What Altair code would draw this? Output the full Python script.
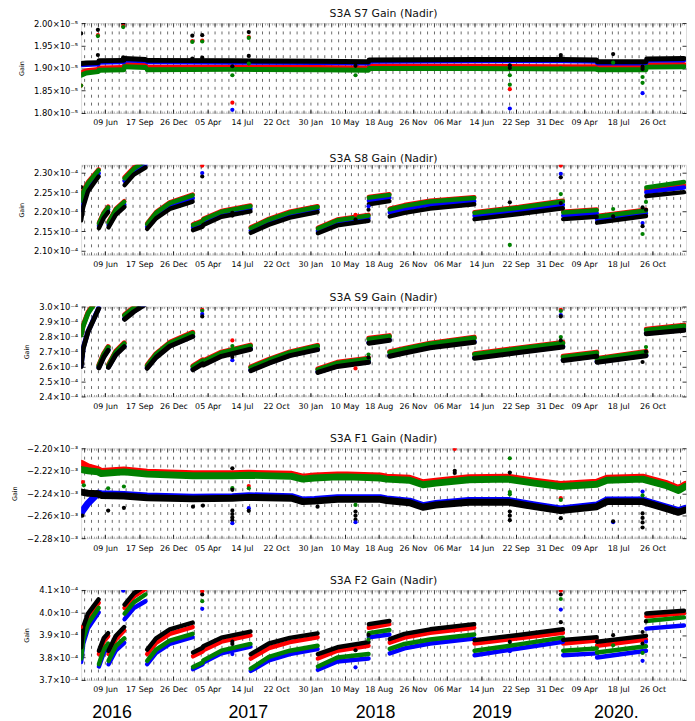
import altair as alt
import pandas as pd

# ---------------- x axis ----------------
X_START = "2016-03-31"
X_END = "2021-02-01"
LABEL_TICKS = ["2016-06-09", "2016-09-17", "2016-12-26", "2017-04-05", "2017-07-14",
               "2017-10-22", "2018-01-30", "2018-05-10", "2018-08-18", "2018-11-26",
               "2019-03-06", "2019-06-14", "2019-09-22", "2019-12-31", "2020-04-09",
               "2020-07-18", "2020-10-26"]
GRID_ORIGIN = "2016-03-01"
YEAR_LABEL_AT = ["2016-06-28", "2017-07-31", "2018-08-07", "2019-07-14", "2020-07-11"]

SERIES = ["red", "blue", "green", "black"]
COLORS = {"red": "#ff0000", "blue": "#0000ff", "green": "#008000", "black": "#000000"}

# ---------------- segment dates (S8, S9, F2) ----------------
SEG_DATES = [
    ["2016-03-31", "2016-04-06", "2016-04-20", "2016-05-21"],
    ["2016-05-22", "2016-06-05", "2016-06-18"],
    ["2016-06-19", "2016-07-10", "2016-08-04"],
    ["2016-08-05", "2016-09-01", "2016-10-05"],
    ["2016-10-10", "2016-11-05", "2016-12-15", "2017-02-20"],
    ["2017-02-21", "2017-03-21"],
    ["2017-03-23", "2017-05-15", "2017-08-08"],
    ["2017-08-09", "2017-10-01", "2017-12-01", "2018-02-20"],
    ["2018-02-21", "2018-04-19", "2018-07-19"],
    ["2018-07-20", "2018-09-18"],
    ["2018-09-19", "2018-11-01", "2019-01-15", "2019-05-24"],
    ["2019-05-25", "2019-10-01", "2020-02-07"],
    ["2020-02-08", "2020-05-16"],
    ["2020-05-17", "2020-10-07"],
    ["2020-10-08", "2021-01-26"],
]

# ---------------- S7 (x1e-5) ----------------
S7_DATES = [
    ["2016-03-31", "2016-04-15", "2016-05-20"],
    ["2016-05-22", "2016-08-03"],
    ["2016-08-05", "2016-10-05"],
    ["2016-10-10", "2017-06-16", "2018-02-20", "2018-07-19"],
    ["2018-07-21", "2019-05-24", "2020-02-07", "2020-05-16"],
    ["2020-05-18", "2020-10-07"],
    ["2020-10-09", "2021-01-26"],
]
S7_BLACK = [[1.910, 1.911, 1.912], [1.916, 1.917], [1.921, 1.919], [1.917, 1.916, 1.915, 1.914],
            [1.918, 1.919, 1.919, 1.918], [1.914, 1.914], [1.920, 1.921]]
S7_BLUE = [[1.907, 1.908, 1.909], [1.913, 1.914], [1.918, 1.916], [1.914, 1.913, 1.912, 1.911],
           [1.915, 1.916, 1.916, 1.915], [1.911, 1.911], [1.917, 1.918]]
S7_RED = [[1.889, 1.894, 1.897], [1.900, 1.901], [1.908, 1.906], [1.902, 1.902, 1.901, 1.900],
          [1.904, 1.904, 1.903, 1.903], [1.901, 1.901], [1.907, 1.908]]
S7_GREEN = [[1.884, 1.889, 1.892], [1.895, 1.896], [1.903, 1.901], [1.896, 1.897, 1.896, 1.895],
            [1.899, 1.899, 1.898, 1.898], [1.896, 1.896], [1.902, 1.903]]
S7_OUT = [
    ("2016-03-31", 1.977, "black"), ("2016-03-31", 1.861, "red"), ("2016-03-31", 1.861, "green"),
    ("2016-05-19", 1.985, "black"), ("2016-05-19", 1.973, "red"), ("2016-05-19", 1.971, "green"),
    ("2016-05-19", 1.929, "black"),
    ("2016-08-01", 1.999, "black"), ("2016-08-01", 1.993, "red"), ("2016-08-01", 1.991, "green"),
    ("2016-08-01", 1.924, "black"),
    ("2017-02-19", 1.972, "black"), ("2017-02-19", 1.960, "red"), ("2017-02-19", 1.958, "green"),
    ("2017-02-19", 1.921, "black"),
    ("2017-03-20", 1.973, "black"), ("2017-03-20", 1.961, "red"), ("2017-03-20", 1.959, "green"),
    ("2017-03-20", 1.923, "black"),
    ("2017-06-16", 1.823, "red"), ("2017-06-16", 1.807, "blue"), ("2017-06-16", 1.904, "black"),
    ("2017-06-16", 1.884, "green"),
    ("2017-08-03", 1.980, "black"), ("2017-08-03", 1.969, "red"), ("2017-08-03", 1.967, "green"),
    ("2017-08-03", 1.927, "black"), ("2017-08-03", 1.910, "green"),
    ("2018-06-11", 1.905, "black"), ("2018-06-11", 1.884, "green"),
    ("2019-09-05", 1.906, "black"), ("2019-09-05", 1.863, "green"), ("2019-09-05", 1.853, "red"),
    ("2019-09-05", 1.810, "blue"), ("2019-09-05", 1.900, "black"), ("2019-09-05", 1.884, "green"),
    ("2020-02-01", 1.929, "black"), ("2020-02-01", 1.924, "black"), ("2020-02-01", 1.900, "green"),
    ("2020-07-03", 1.931, "black"), ("2020-07-03", 1.912, "green"),
    ("2020-09-27", 1.903, "black"), ("2020-09-27", 1.867, "green"), ("2020-09-27", 1.844, "blue"),
    ("2020-09-27", 1.898, "black"), ("2020-09-27", 1.880, "green"),
]

# ---------------- S8 (x1e-4) ----------------
S8_RED = [[2.232, 2.254, 2.276, 2.308], [2.172, 2.198, 2.213], [2.174, 2.207, 2.227], [2.288, 2.313, 2.332],
          [2.170, 2.199, 2.224, 2.244], [2.168, 2.177], [2.182, 2.202, 2.216], [2.160, 2.182, 2.200, 2.214],
          [2.159, 2.180, 2.192], [2.238, 2.245], [2.208, 2.217, 2.228, 2.237], [2.199, 2.212, 2.228],
          [2.200, 2.206], [2.189, 2.205], [2.256, 2.268]]
S8_BLUE = [[2.205, 2.232, 2.262, 2.298], [2.165, 2.191, 2.206], [2.167, 2.199, 2.219], [2.279, 2.304, 2.322],
           [2.162, 2.191, 2.215, 2.235], [2.160, 2.169], [2.174, 2.194, 2.208], [2.152, 2.174, 2.192, 2.206],
           [2.151, 2.172, 2.184], [2.228, 2.236], [2.198, 2.207, 2.218, 2.227], [2.190, 2.203, 2.218],
           [2.190, 2.196], [2.180, 2.196], [2.250, 2.262]]
S8_GREEN = [[2.228, 2.250, 2.273, 2.306], [2.170, 2.196, 2.211], [2.172, 2.205, 2.225], [2.285, 2.310, 2.329],
            [2.168, 2.197, 2.222, 2.242], [2.166, 2.175], [2.180, 2.200, 2.214], [2.158, 2.180, 2.198, 2.212],
            [2.157, 2.178, 2.190], [2.236, 2.243], [2.206, 2.215, 2.226, 2.235], [2.197, 2.210, 2.226],
            [2.198, 2.204], [2.187, 2.203], [2.262, 2.276]]
S8_BLACK = [[2.178, 2.212, 2.252, 2.290], [2.158, 2.184, 2.199], [2.160, 2.192, 2.212], [2.268, 2.295, 2.313],
            [2.156, 2.183, 2.207, 2.226], [2.153, 2.162], [2.166, 2.187, 2.201], [2.146, 2.167, 2.185, 2.199],
            [2.145, 2.165, 2.177], [2.219, 2.227], [2.188, 2.197, 2.208, 2.219], [2.181, 2.194, 2.209],
            [2.181, 2.187], [2.172, 2.189], [2.240, 2.250]]
S8_OUT = [
    ("2016-03-31", 2.263, "black"),
    ("2017-03-20", 2.318, "red"), ("2017-03-20", 2.299, "blue"), ("2017-03-20", 2.290, "black"),
    ("2017-06-16", 2.190, "black"), ("2017-06-16", 2.197, "black"),
    ("2018-06-11", 2.192, "red"), ("2018-06-11", 2.180, "black"),
    ("2018-07-19", 2.205, "black"), ("2018-07-19", 2.214, "blue"),
    ("2019-09-05", 2.224, "black"), ("2019-09-05", 2.115, "green"),
    ("2020-02-01", 2.318, "red"), ("2020-02-01", 2.297, "blue"), ("2020-02-01", 2.288, "black"),
    ("2020-02-01", 2.245, "green"), ("2020-02-01", 2.222, "black"),
    ("2020-07-03", 2.207, "green"), ("2020-07-03", 2.188, "black"),
    ("2020-09-27", 2.211, "black"), ("2020-09-27", 2.171, "blue"), ("2020-09-27", 2.163, "black"),
    ("2020-09-27", 2.143, "green"),
    ("2020-10-07", 2.205, "black"), ("2020-10-07", 2.225, "green"),
]

# ---------------- S9 (x1e-4) ----------------
S9_RED = [[2.816, 2.876, 2.961, 3.066], [2.611, 2.686, 2.733], [2.612, 2.701, 2.758], [2.946, 2.996, 3.046],
          [2.609, 2.686, 2.761, 2.828], [2.604, 2.644], [2.638, 2.696, 2.743], [2.598, 2.648, 2.698, 2.741],
          [2.584, 2.628, 2.656], [2.788, 2.806], [2.699, 2.721, 2.756, 2.796], [2.686, 2.724, 2.761],
          [2.668, 2.696], [2.654, 2.701], [2.848, 2.876]]
S9_BLUE = [[2.604, 2.724, 2.834, 2.989], [2.596, 2.666, 2.712], [2.598, 2.681, 2.736], [2.919, 2.969, 3.019],
           [2.592, 2.664, 2.739, 2.804], [2.582, 2.622], [2.614, 2.672, 2.719], [2.576, 2.626, 2.676, 2.716],
           [2.564, 2.604, 2.632], [2.759, 2.779], [2.672, 2.694, 2.729, 2.766], [2.659, 2.697, 2.734],
           [2.644, 2.672], [2.632, 2.676], [2.822, 2.846]]
S9_GREEN = [[2.810, 2.870, 2.955, 3.060], [2.605, 2.680, 2.727], [2.606, 2.695, 2.752], [2.940, 2.990, 3.040],
            [2.603, 2.680, 2.755, 2.822], [2.598, 2.638], [2.632, 2.690, 2.737], [2.592, 2.642, 2.692, 2.735],
            [2.578, 2.622, 2.650], [2.782, 2.800], [2.693, 2.715, 2.750, 2.790], [2.680, 2.718, 2.755],
            [2.662, 2.690], [2.648, 2.695], [2.842, 2.870]]
S9_BLACK = [[2.600, 2.720, 2.830, 2.985], [2.592, 2.662, 2.708], [2.594, 2.677, 2.732], [2.915, 2.965, 3.015],
            [2.588, 2.660, 2.735, 2.800], [2.578, 2.618], [2.610, 2.668, 2.715], [2.572, 2.622, 2.672, 2.712],
            [2.560, 2.600, 2.628], [2.755, 2.775], [2.668, 2.690, 2.725, 2.762], [2.655, 2.693, 2.730],
            [2.640, 2.668], [2.628, 2.672], [2.818, 2.842]]
S9_OUT = [
    ("2017-03-20", 2.978, "red"), ("2017-03-20", 2.971, "green"), ("2017-03-20", 2.950, "blue"),
    ("2017-03-20", 2.934, "black"),
    ("2017-06-16", 2.774, "red"), ("2017-06-16", 2.736, "green"), ("2017-06-16", 2.642, "blue"),
    ("2017-06-16", 2.664, "black"),
    ("2018-06-11", 2.587, "red"),
    ("2018-07-19", 2.680, "green"), ("2018-07-19", 2.660, "black"),
    ("2020-02-01", 2.978, "red"), ("2020-02-01", 2.970, "green"), ("2020-02-01", 2.943, "blue"),
    ("2020-02-01", 2.934, "black"), ("2020-02-01", 2.796, "green"), ("2020-02-01", 2.774, "black"),
    ("2020-09-27", 2.630, "black"), ("2020-10-07", 2.730, "green"), ("2020-10-07", 2.700, "black"),
]

# ---------------- F1 (x1e-3) ----------------
F1_DATES = [["2016-04-01", "2016-04-20", "2016-05-19", "2016-05-29", "2016-08-03", "2016-10-10",
             "2017-02-21", "2017-06-16", "2017-08-03", "2017-12-06", "2018-01-08", "2018-02-11",
             "2018-04-19", "2018-05-18", "2018-08-22", "2018-09-10", "2018-11-16", "2018-12-25",
             "2019-02-01", "2019-05-08", "2019-08-31", "2019-11-16", "2020-01-31", "2020-05-16",
             "2020-06-15", "2020-09-27", "2020-12-03", "2021-01-10", "2021-01-30"]]
F1_RED = [[-2.2135, -2.2165, -2.2190, -2.2207, -2.2192, -2.2212, -2.2227, -2.2227, -2.2222, -2.2232,
           -2.2257, -2.2247, -2.2237, -2.2237, -2.2247, -2.2257, -2.2267, -2.2307, -2.2292, -2.2262,
           -2.2257, -2.2292, -2.2322, -2.2302, -2.2267, -2.2257, -2.2312, -2.2357, -2.2322]]
F1_BLUE = [[-2.2570, -2.2490, -2.2400, -2.2405, -2.2410, -2.2425, -2.2435, -2.2430, -2.2422, -2.2430,
            -2.2460, -2.2455, -2.2440, -2.2440, -2.2440, -2.2450, -2.2470, -2.2510, -2.2490, -2.2465,
            -2.2465, -2.2505, -2.2540, -2.2505, -2.2460, -2.2460, -2.2520, -2.2555, -2.2535]]
F1_GREEN = [[-2.2190, -2.2200, -2.2210, -2.2225, -2.2210, -2.2230, -2.2245, -2.2245, -2.2240, -2.2250,
             -2.2275, -2.2265, -2.2255, -2.2255, -2.2265, -2.2275, -2.2285, -2.2325, -2.2310, -2.2280,
             -2.2275, -2.2310, -2.2340, -2.2320, -2.2285, -2.2275, -2.2330, -2.2375, -2.2340]]
F1_BLACK = [[-2.2390, -2.2400, -2.2405, -2.2420, -2.2425, -2.2440, -2.2450, -2.2445, -2.2437, -2.2445,
             -2.2475, -2.2470, -2.2455, -2.2455, -2.2455, -2.2465, -2.2485, -2.2525, -2.2505, -2.2480,
             -2.2480, -2.2520, -2.2555, -2.2520, -2.2475, -2.2475, -2.2535, -2.2570, -2.2550]]
F1_OUT = [
    ("2016-04-05", -2.2300, "red"), ("2016-04-08", -2.2330, "green"), ("2016-04-03", -2.2600, "black"),
    ("2016-06-18", -2.2554, "black"), ("2016-06-18", -2.2356, "green"),
    ("2016-08-03", -2.2530, "black"), ("2016-08-03", -2.2340, "green"),
    ("2017-02-21", -2.2520, "black"), ("2017-03-22", -2.2510, "black"),
    ("2017-06-16", -2.2178, "black"), ("2017-06-16", -2.2355, "green"), ("2017-06-16", -2.2370, "black"),
    ("2017-06-16", -2.2555, "black"), ("2017-06-16", -2.2585, "black"), ("2017-06-16", -2.2615, "black"),
    ("2017-06-16", -2.2640, "black"), ("2017-06-16", -2.2667, "blue"),
    ("2017-08-03", -2.2336, "red"), ("2017-08-03", -2.2356, "green"), ("2017-08-03", -2.2533, "blue"),
    ("2017-08-03", -2.2557, "black"),
    ("2018-02-20", -2.2520, "black"),
    ("2018-06-11", -2.2504, "green"), ("2018-06-11", -2.2563, "black"), ("2018-06-11", -2.2600, "black"),
    ("2018-06-11", -2.2635, "black"), ("2018-06-11", -2.2658, "blue"),
    ("2019-03-28", -2.2200, "black"), ("2019-03-28", -2.2220, "black"), ("2019-03-28", -2.2006, "red"),
    ("2019-09-05", -2.2089, "green"), ("2019-09-05", -2.2216, "black"), ("2019-09-05", -2.2390, "green"),
    ("2019-09-05", -2.2410, "green"), ("2019-09-05", -2.2563, "black"), ("2019-09-05", -2.2600, "black"),
    ("2019-09-05", -2.2640, "black"),
    ("2020-02-01", -2.2444, "red"), ("2020-02-01", -2.2460, "green"), ("2020-02-01", -2.2569, "black"),
    ("2020-02-01", -2.2622, "black"),
    ("2020-07-03", -2.2658, "blue"), ("2020-07-03", -2.2650, "black"),
    ("2020-09-27", -2.2385, "blue"), ("2020-09-27", -2.2420, "green"), ("2020-09-27", -2.2580, "black"),
    ("2020-09-27", -2.2620, "black"), ("2020-09-27", -2.2660, "black"), ("2020-09-27", -2.2705, "black"),
]

# ---------------- F2 (x1e-4) ----------------
F2_RED = [[3.830, 3.918, 3.980, 4.043], [3.815, 3.870, 3.895], [3.815, 3.880, 3.920], [4.020, 4.070, 4.105],
          [3.815, 3.865, 3.905, 3.935], [3.805, 3.826], [3.832, 3.870, 3.898], [3.795, 3.842, 3.868, 3.890],
          [3.795, 3.830, 3.852], [3.932, 3.948], [3.866, 3.888, 3.910, 3.932], [3.862, 3.885, 3.910],
          [3.862, 3.875], [3.852, 3.880], [3.983, 3.996]]
F2_BLUE = [[3.780, 3.860, 3.930, 4.000], [3.760, 3.820, 3.845], [3.770, 3.830, 3.865], [3.970, 4.020, 4.050],
           [3.770, 3.820, 3.860, 3.890], [3.748, 3.770], [3.777, 3.818, 3.848], [3.740, 3.787, 3.815, 3.837],
           [3.745, 3.782, 3.795], [3.890, 3.902], [3.818, 3.840, 3.862, 3.884], [3.810, 3.840, 3.870],
           [3.810, 3.818], [3.800, 3.830], [3.928, 3.942]]
F2_GREEN = [[3.795, 3.880, 3.950, 4.020], [3.770, 3.835, 3.862], [3.785, 3.850, 3.885], [3.995, 4.045, 4.080],
            [3.785, 3.835, 3.875, 3.905], [3.757, 3.778], [3.787, 3.830, 3.860], [3.750, 3.802, 3.830, 3.852],
            [3.760, 3.800, 3.815], [3.908, 3.922], [3.838, 3.860, 3.880, 3.902], [3.830, 3.858, 3.888],
            [3.830, 3.840], [3.822, 3.850], [3.962, 3.978]]
F2_BLACK = [[3.845, 3.935, 3.995, 4.058], [3.830, 3.885, 3.908], [3.830, 3.895, 3.935], [4.035, 4.085, 4.120],
            [3.835, 3.885, 3.925, 3.955], [3.822, 3.843], [3.850, 3.888, 3.915], [3.815, 3.862, 3.887, 3.907],
            [3.815, 3.845, 3.868], [3.948, 3.962], [3.882, 3.905, 3.925, 3.948], [3.877, 3.900, 3.925],
            [3.878, 3.890], [3.870, 3.896], [3.995, 4.008]]
F2_OUT = [
    ("2016-03-31", 3.935, "red"), ("2016-08-01", 4.097, "blue"),
    ("2017-03-20", 4.094, "red"), ("2017-03-20", 4.080, "black"), ("2017-03-20", 4.050, "green"),
    ("2017-03-20", 4.016, "blue"),
    ("2017-06-16", 3.815, "blue"), ("2017-06-16", 3.860, "black"), ("2017-06-16", 3.870, "black"),
    ("2018-06-11", 3.832, "black"), ("2018-06-11", 3.756, "blue"),
    ("2018-07-19", 3.900, "black"), ("2018-07-19", 3.880, "green"),
    ("2019-09-05", 3.869, "black"), ("2019-09-05", 3.828, "blue"),
    ("2020-02-01", 4.097, "red"), ("2020-02-01", 4.080, "black"), ("2020-02-01", 4.060, "green"),
    ("2020-02-01", 4.013, "blue"), ("2020-02-01", 3.957, "black"),
    ("2020-07-03", 3.899, "black"), ("2020-07-03", 3.854, "green"),
    ("2020-09-27", 3.913, "black"), ("2020-09-27", 3.862, "black"), ("2020-09-27", 3.820, "green"),
    ("2020-09-27", 3.785, "blue"),
    ("2020-10-07", 3.960, "black"), ("2020-10-07", 3.870, "blue"),
]

FONT = "DejaVu Sans"


def ms(d):
    return int(pd.Timestamp(d, tz="UTC").value // 10**6)


X0, X1 = ms(X_START), ms(X_END)
GRID_MS = [ms(d) for d in pd.date_range(GRID_ORIGIN, X_END, freq="20D") if X0 <= ms(d) <= X1]
MINOR_MS = [ms(d) for d in pd.date_range(GRID_ORIGIN, X_END, freq="160h") if X0 <= ms(d) <= X1]
LABEL_MS = [ms(d) for d in LABEL_TICKS]
YEAR_MS = [ms(d) for d in YEAR_LABEL_AT]


def long_frame(dates, series_vals):
    rows = []
    for name, segs in series_vals.items():
        assert len(segs) == len(dates)
        for k, (ds, vs) in enumerate(zip(dates, segs)):
            assert len(ds) == len(vs), (name, k)
            for d, v in zip(ds, vs):
                rows.append({"date": d, "value": v, "series": name, "seg": k})
    return pd.DataFrame(rows)


def panel(title, dates, vals, outliers, domain, yticks, fmt, expo, sw, years=False):
    lines = long_frame(dates, vals)
    pts = pd.DataFrame(outliers, columns=["date", "value", "series"])
    xs = alt.Scale(type="utc", domain=[X0, X1], nice=False)
    ys = alt.Scale(domain=domain, nice=False, zero=False)

    ax_bottom = alt.Axis(orient="bottom", values=LABEL_MS, labelExpr="utcFormat(datum.value, '%d %b')",
                         offset=-4, tickSize=4, tickColor="black", tickWidth=0.8, domain=False, grid=False,
                         labelFont=FONT, labelFontSize=8, labelColor="black", labelPadding=6,
                         labelFlush=False, labelOverlap=False, title=None)
    ax_top_grid = alt.Axis(orient="top", values=GRID_MS, offset=-4, tickSize=4, tickColor="#333333",
                           tickWidth=0.7, labels=False, domain=False, grid=True, gridDash=[3, 5],
                           gridColor="#2a2a2a", gridWidth=0.7, title=None)
    ax_bottom_minor = alt.Axis(orient="bottom", values=MINOR_MS, offset=-2, tickSize=2, tickColor="#555555",
                               tickWidth=0.5, labels=False, domain=False, grid=False, title=None)
    ax_top_minor = alt.Axis(orient="top", values=MINOR_MS, offset=-2, tickSize=2, tickColor="#555555",
                            tickWidth=0.5, labels=False, domain=False, grid=False, title=None)
    ax_years = None
    if years:
        ax_years = alt.Axis(orient="bottom", values=YEAR_MS,
                            labelExpr="utcFormat(datum.value, '%Y') + (utcyear(datum.value) == 2020 ? '.' : '')",
                            ticks=False, tickSize=0, domain=False, grid=False, labelFont="Liberation Sans",
                            labelFontSize=18, labelColor="black", labelPadding=24, labelFlush=False,
                            labelOverlap=False, title=None)
    ax_left = alt.Axis(orient="left", values=yticks,
                       labelExpr=f"format(datum.value, '{fmt}') + '\u00d710{expo}'",
                       offset=-4, tickSize=4, tickColor="black", tickWidth=0.8, domain=False, grid=False,
                       labelFont=FONT, labelFontSize=8.5, labelColor="black", labelPadding=3.5,
                       title="Gain", titleFont=FONT, titleFontSize=6.5, titleFontWeight="normal",
                       titleColor="black", titlePadding=9)
    ax_right = alt.Axis(orient="right", values=yticks, offset=-4, tickSize=4, tickColor="black",
                        tickWidth=0.8, labels=False, domain=False, grid=False, title=None)

    xaxes = [ax_bottom, ax_top_grid, ax_bottom_minor, ax_top_minor]
    yaxes = [ax_left, ax_right, None, None]
    layers = []
    for i, name in enumerate(SERIES):
        sub = lines[lines["series"] == name]
        layers.append(
            alt.Chart(sub).mark_line(color=COLORS[name], strokeWidth=sw, strokeCap="round",
                                     strokeJoin="round", clip=True).encode(
                x=alt.X("date:T", scale=xs, axis=xaxes[i]),
                y=alt.Y("value:Q", scale=ys, axis=yaxes[i]),
                detail="seg:N",
            )
        )
    layers.append(
        alt.Chart(pts).mark_circle(size=18, opacity=1, clip=True).encode(
            x=alt.X("date:T", scale=xs, axis=ax_years),
            y=alt.Y("value:Q", scale=ys, axis=None),
            color=alt.Color("series:N", scale=alt.Scale(domain=SERIES, range=[COLORS[c] for c in SERIES]),
                            legend=None),
        )
    )
    return alt.layer(*layers).resolve_axis(x="independent", y="independent").properties(
        width=612, height=91,
        title=alt.TitleParams(text=title, font=FONT, fontSize=11, fontWeight="normal", color="#111111",
                              offset=0, anchor="middle", frame="group"),
    )


p1 = panel("S3A S7 Gain (Nadir)", S7_DATES,
           {"red": S7_RED, "blue": S7_BLUE, "green": S7_GREEN, "black": S7_BLACK}, S7_OUT,
           [1.80, 2.00], [1.80, 1.85, 1.90, 1.95, 2.00], ".2f", "\u207b\u2075", 5)
p2 = panel("S3A S8 Gain (Nadir)", SEG_DATES,
           {"red": S8_RED, "blue": S8_BLUE, "green": S8_GREEN, "black": S8_BLACK}, S8_OUT,
           [2.09, 2.32], [2.10, 2.15, 2.20, 2.25, 2.30], ".2f", "\u207b\u2074", 4.5)
p3 = panel("S3A S9 Gain (Nadir)", SEG_DATES,
           {"red": S9_RED, "blue": S9_BLUE, "green": S9_GREEN, "black": S9_BLACK}, S9_OUT,
           [2.40, 3.00], [2.4, 2.5, 2.6, 2.7, 2.8, 2.9, 3.0], ".1f", "\u207b\u2074", 5)
p4 = panel("S3A F1 Gain (Nadir)", F1_DATES,
           {"red": F1_RED, "blue": F1_BLUE, "green": F1_GREEN, "black": F1_BLACK}, F1_OUT,
           [-2.28, -2.20], [-2.28, -2.26, -2.24, -2.22, -2.20], ".2f", "\u207b\u00b3", 7)
p5 = panel("S3A F2 Gain (Nadir)", SEG_DATES,
           {"red": F2_RED, "blue": F2_BLUE, "green": F2_GREEN, "black": F2_BLACK}, F2_OUT,
           [3.70, 4.10], [3.7, 3.8, 3.9, 4.0, 4.1], ".1f", "\u207b\u2074", 4.5, years=True)

chart = alt.vconcat(p1, p2, p3, p4, p5, spacing=52.4, bounds="flush").properties(
    padding={"left": 3, "top": -5, "right": 0, "bottom": 0}
).configure_view(stroke="black", strokeWidth=1).configure(background="white")

chart.save("out.html", embed_options={"renderer": "svg", "actions": False})
